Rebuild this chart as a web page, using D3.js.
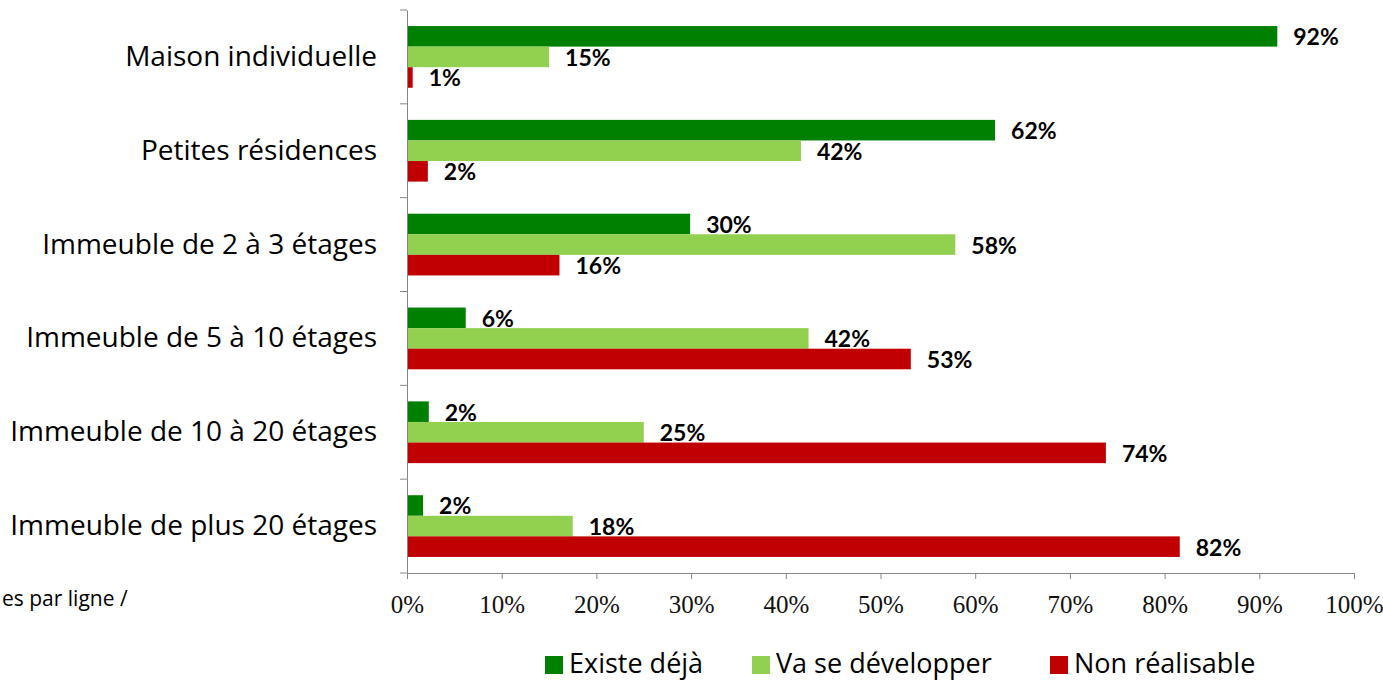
<!DOCTYPE html>
<html>
<head>
<meta charset="utf-8">
<script src="https://cdn.jsdelivr.net/npm/d3@7"></script>
<style>
  body { margin: 0; background: #fff; }
  svg { display: block; }
</style>
</head>
<body>
<main></main>
<script>
// data
let categories = [
  "Maison individuelle",
  "Petites résidences",
  "Immeuble de 2 à 3 étages",
  "Immeuble de 5 à 10 étages",
  "Immeuble de 10 à 20 étages",
  "Immeuble de plus 20 étages"
]
let seriesNames = ["Existe déjà", "Va se développer", "Non réalisable"]
let existe = [91.9, 62.1, 29.9, 6.2, 2.3, 1.7]
let developper = [15.0, 41.6, 57.9, 42.4, 25.0, 17.5]
let nonRealisable = [0.6, 2.2, 16.1, 53.2, 73.8, 81.6]
let tickValues = [0, 10, 20, 30, 40, 50, 60, 70, 80, 90, 100]
let colors = ["#008000", "#92D050", "#C00000"]

let allSeries = [existe, developper, nonRealisable]
let W = 1383, H = 681
let plotLeft = 407, plotRight = 1354, plotTop = 10, plotBottom = 573
let font = "'Open Sans', Lato, sans-serif"
let labelFont = "Lato, 'Open Sans', sans-serif"

let svg = d3.select('main').append('svg')
    .attr('width', W)
    .attr('height', H)

let x = d3.scaleLinear().domain([0, 100]).range([plotLeft, plotRight])
let y = d3.scaleBand().domain(categories).range([plotTop, plotBottom]).paddingInner(0).paddingOuter(0)
let y1 = d3.scaleBand().domain(seriesNames).range([0, y.bandwidth()]).paddingOuter(0.78)

// bars
categories.forEach(function(cat, i) {
  let g = svg.append('g').attr('transform', `translate(0,${y(cat)})`)
  seriesNames.forEach(function(s, j) {
    let v = allSeries[j][i]
    g.append('rect')
      .attr('x', x(0))
      .attr('y', y1(s))
      .attr('width', x(v) - x(0))
      .attr('height', y1.bandwidth())
      .attr('fill', colors[j])
    g.append('text')
      .attr('x', x(v) + 16)
      .attr('y', y1(s) + y1.bandwidth() / 2 + 9)
      .style('font-family', labelFont)
      .style('font-size', '23px')
      .style('font-weight', 'bold')
      .style('fill', '#000')
      .text(Math.round(v) + '%')
  })
})

// x axis
let xAxis = d3.axisBottom(x)
    .tickValues(tickValues)
    .tickSize(6)
    .tickFormat(d => d + '%')
let gx = svg.append('g').attr('transform', `translate(0,${plotBottom})`).call(xAxis)
gx.select('.domain').attr('stroke', '#868686')
gx.selectAll('.tick line').attr('stroke', '#868686')
gx.selectAll('.tick text')
    .attr('y', 40)
    .attr('dy', null)
    .style('font-family', "'Liberation Serif', 'DejaVu Serif', serif")
    .style('font-size', '25px')
    .style('fill', '#111')

// y axis: ticks on category boundaries
let yAxis = d3.axisLeft(y).tickSize(0).tickPadding(30)
let gy = svg.append('g').attr('transform', `translate(${plotLeft},0)`).call(yAxis)
gy.select('.domain').attr('stroke', '#868686')
gy.selectAll('.tick text')
    .style('font-family', font)
    .style('font-size', '28px')
    .style('fill', '#000')
svg.append('g').selectAll('line')
  .data(d3.range(categories.length + 1))
  .join('line')
    .attr('x1', plotLeft - 7)
    .attr('x2', plotLeft)
    .attr('y1', d => plotTop + d * y.step())
    .attr('y2', d => plotTop + d * y.step())
    .attr('stroke', '#868686')

// note at bottom left (cut in the original)
svg.append('text')
    .attr('x', 2)
    .attr('y', 606)
    .style('font-family', font)
    .style('font-size', '21px')
    .text('es par ligne /')

// legend
let legendX = [545, 752, 1050]
let legend = svg.append('g')
seriesNames.forEach(function(s, j) {
  legend.append('rect')
    .attr('x', legendX[j])
    .attr('y', 656)
    .attr('width', 18)
    .attr('height', 18)
    .attr('fill', colors[j])
  legend.append('text')
    .attr('x', legendX[j] + 24)
    .attr('y', 673)
    .style('font-family', font)
    .style('font-size', '27px')
    .text(s)
})
</script>
</body>
</html>
